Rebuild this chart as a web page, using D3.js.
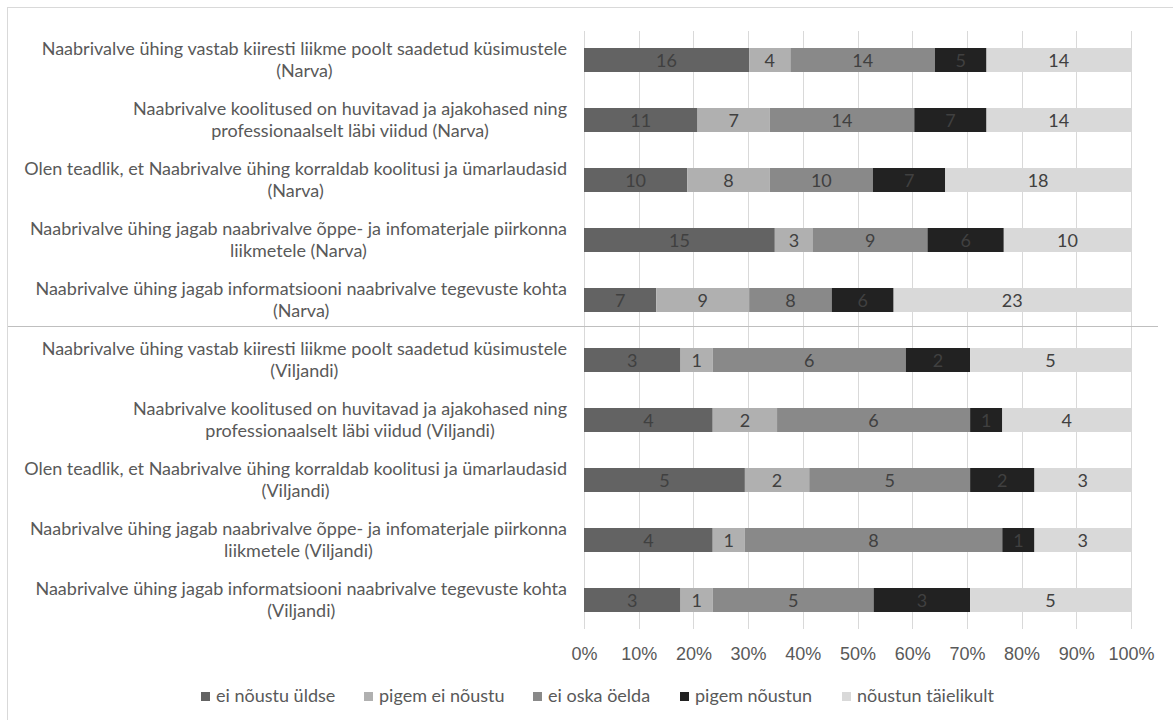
<!DOCTYPE html>
<html><head><meta charset="utf-8">
<script src="https://cdn.jsdelivr.net/npm/d3@7"></script>
<style>
body{margin:0;background:#fff;}
svg{display:block;font-family:"Lato","Open Sans",sans-serif;}
</style></head>
<body><svg id="c" width="1173" height="720"></svg>
<script>
const categories = [
  ["Naabrivalve ühing vastab kiiresti liikme poolt saadetud küsimustele","(Narva)"],
  ["Naabrivalve koolitused on huvitavad ja ajakohased ning","professionaalselt läbi viidud (Narva)"],
  ["Olen teadlik, et Naabrivalve ühing korraldab koolitusi ja ümarlaudasid","(Narva)"],
  ["Naabrivalve ühing jagab naabrivalve õppe- ja infomaterjale piirkonna","liikmetele (Narva)"],
  ["Naabrivalve ühing jagab informatsiooni naabrivalve tegevuste kohta","(Narva)"],
  ["Naabrivalve ühing vastab kiiresti liikme poolt saadetud küsimustele","(Viljandi)"],
  ["Naabrivalve koolitused on huvitavad ja ajakohased ning","professionaalselt läbi viidud (Viljandi)"],
  ["Olen teadlik, et Naabrivalve ühing korraldab koolitusi ja ümarlaudasid","(Viljandi)"],
  ["Naabrivalve ühing jagab naabrivalve õppe- ja infomaterjale piirkonna","liikmetele (Viljandi)"],
  ["Naabrivalve ühing jagab informatsiooni naabrivalve tegevuste kohta","(Viljandi)"]
];
const seriesNames = ["ei nõustu üldse","pigem ei nõustu","ei oska öelda","pigem nõustun","nõustun täielikult"];
const eiNoustuYldse   = [16,11,10,15,7, 3,4,5,4,3];
const pigemEiNoustu   = [4,7,8,3,9,     1,2,2,1,1];
const eiOskaOelda     = [14,14,10,9,8,  6,6,5,8,5];
const pigemNoustun    = [5,7,7,6,6,     2,1,2,1,3];
const noustunTaielikult=[14,14,18,10,23,5,4,3,3,5];
const tickLabels = ["0%","10%","20%","30%","40%","50%","60%","70%","80%","90%","100%"];
const colors = ["#636363","#b0b0b0","#898989","#222222","#d9d9d9"];

const seriesVals = [eiNoustuYldse,pigemEiNoustu,eiOskaOelda,pigemNoustun,noustunTaielikult];
const rows = categories.map((c,i)=>{
  const o = {i};
  seriesNames.forEach((s,k)=>o[s]=seriesVals[k][i]);
  return o;
});
const stacked = d3.stack().keys(seriesNames).offset(d3.stackOffsetExpand)(rows);

const svg = d3.select("#c");
const FONT = 18;
svg.append("rect").attr("x",7.5).attr("y",7.5).attr("width",1180).attr("height",730)
  .attr("fill","#fff").attr("stroke","#d9d9d9");

const x = d3.scaleLinear().domain([0,1]).range([584,1131]);
const y = d3.scaleBand().domain(d3.range(categories.length)).range([30,630]).paddingInner(0.6).paddingOuter(0.3);

// gridlines
svg.append("g").selectAll("line").data(d3.range(0,1.0001,0.1)).join("line")
  .attr("x1",d=>Math.round(x(d))+0.5).attr("x2",d=>Math.round(x(d))+0.5)
  .attr("y1",31).attr("y2",629).attr("stroke","#d9d9d9").attr("stroke-width",1);

// bars
const gs = svg.append("g").selectAll("g").data(stacked).join("g").attr("fill",(d,k)=>colors[k]);
gs.selectAll("rect").data(d=>d).join("rect")
  .attr("x",d=>x(d[0])).attr("width",d=>x(d[1])-x(d[0]))
  .attr("y",(d,i)=>y(i)).attr("height",y.bandwidth());

// value labels
const lg = svg.append("g").attr("font-size",FONT).attr("fill","#404040").attr("text-anchor","middle");
stacked.forEach((s,k)=>{
  s.forEach((d,i)=>{
    lg.append("text").attr("x",(x(d[0])+x(d[1]))/2).attr("y",y(i)+y.bandwidth()/2+6.5)
      .text(seriesVals[k][i]);
  });
});

// category labels
const cg = svg.append("g").attr("font-size",FONT).attr("fill","#595959");
categories.forEach((lines,i)=>{
  const cy = y(i)+y.bandwidth()/2;
  const g = cg.append("g");
  const ts = lines.map((l,j)=>g.append("text").attr("y",cy+(j-(lines.length-1)/2)*22+6).text(l));
  const widths = ts.map(t=>t.node().getComputedTextLength());
  const w = d3.max(widths);
  const right = 567;
  const center = right - w/2;
  ts.forEach(t=>t.attr("x",center).attr("text-anchor","middle"));
});

// divider
svg.append("line").attr("x1",8).attr("x2",1158).attr("y1",326.5).attr("y2",326.5)
  .attr("stroke","#bfbfbf").attr("stroke-width",1);

// x axis labels
const xAxis = d3.axisBottom(x).tickValues(d3.range(0,1.0001,0.1)).tickFormat((d,i)=>tickLabels[i]).tickSize(0).tickPadding(0);
const ax = svg.append("g").attr("transform","translate(0,660)").call(xAxis);
ax.select(".domain").remove();
ax.selectAll("text").attr("font-size",FONT).attr("fill","#595959").attr("font-family","inherit").attr("dy",0);

// legend
const legX = [201,364,533,680,842];
const leg = svg.append("g");
seriesNames.forEach((s,k)=>{
  leg.append("rect").attr("x",legX[k]).attr("y",692).attr("width",9).attr("height",9).attr("fill",colors[k]);
  leg.append("text").attr("x",legX[k]+15).attr("y",702).attr("font-size",FONT).attr("fill","#595959").text(s);
});
</script></body></html>
